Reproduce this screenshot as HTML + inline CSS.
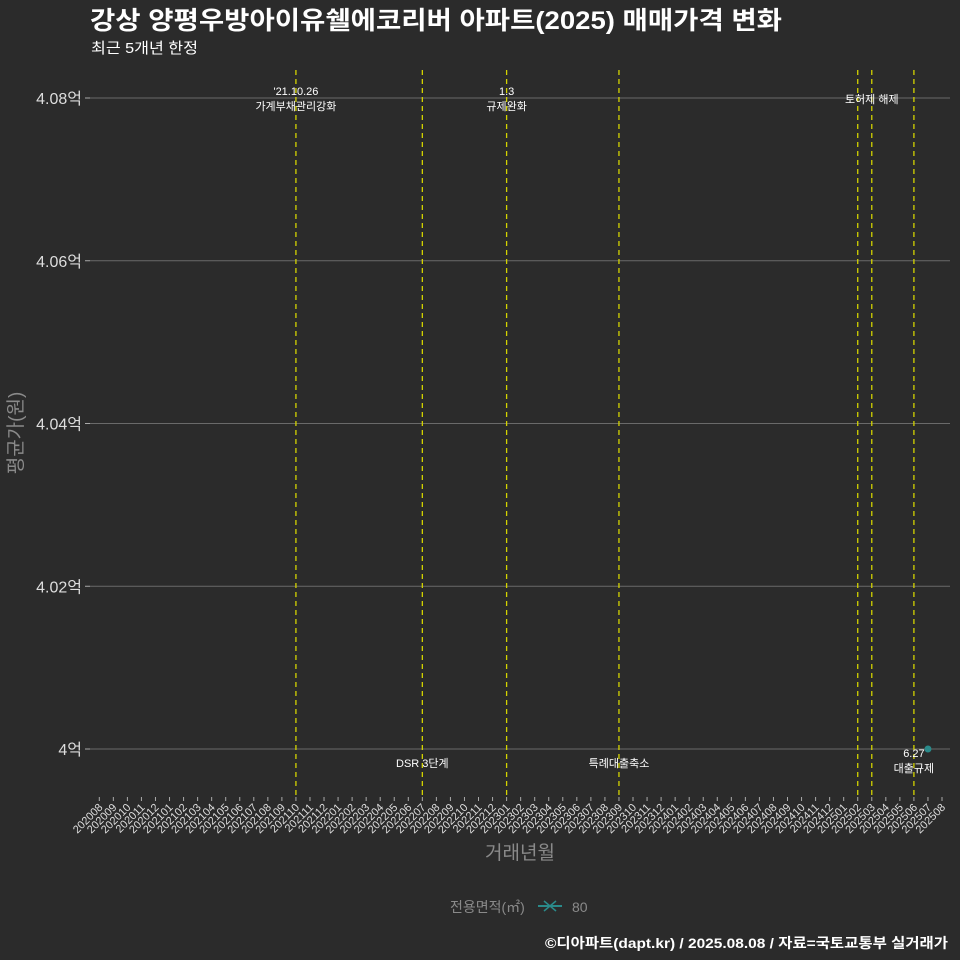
<!DOCTYPE html>
<html><head><meta charset="utf-8">
<style>
body{margin:0;background:#2b2b2b;}
svg{display:block;font-family:"Liberation Sans","Noto Sans CJK KR",sans-serif;}
</style></head>
<body>
<svg id="chart" width="960" height="960" viewBox="0 0 960 960">
<rect width="960" height="960" fill="#2b2b2b"/>
<text x="90" y="29" font-size="25" font-weight="bold" fill="#ffffff" textLength="692" lengthAdjust="spacingAndGlyphs">강상 양평우방아이유쉘에코리버 아파트(2025) 매매가격 변화</text>
<text x="91" y="53" font-size="15" fill="#ffffff" textLength="107" lengthAdjust="spacingAndGlyphs">최근 5개년 한정</text>
<g id="grid"></g>
<g id="events"></g>
<g id="xaxis"></g>
<g id="marks"></g>
<text x="520" y="859" font-size="19" fill="#8a8a8a" text-anchor="middle">거래년월</text>
<text transform="translate(22,433) rotate(-90)" font-size="19" fill="#8a8a8a" text-anchor="middle">평균가(원)</text>
<g>
<text x="450" y="912" font-size="14" fill="#8a8a8a">전용면적(㎡)</text>
<line x1="538" y1="906" x2="562" y2="906" stroke="#2a8a8a" stroke-width="2"/>
<path d="M544 901 L556 911 M544 911 L556 901" stroke="#2a8a8a" stroke-width="1.5"/>
<text x="572" y="912" font-size="14" fill="#8a8a8a">80</text>
</g>
<text x="545" y="948" font-size="14" font-weight="bold" fill="#ffffff" textLength="403" lengthAdjust="spacingAndGlyphs">©디아파트(dapt.kr) / 2025.08.08 / 자료=국토교통부 실거래가</text>
</svg>
<script>
const months = [];
for (let y = 2020; y <= 2025; y++) for (let m = 1; m <= 12; m++) {
  const k = y * 100 + m; if (k >= 202008 && k <= 202508) months.push(String(k));
}
const yTicks = [4.00, 4.02, 4.04, 4.06, 4.08];
const yTickLabels = ["4억", "4.02억", "4.04억", "4.06억", "4.08억"];
const seriesMonths = ["202507"];
const seriesValues = [4.00];
const eventMonths = ["202110", "202207", "202301", "202309", "202502", "202503", "202506"];
const eventLabels = [["'21.10.26", "가계부채관리강화"], ["DSR 3단계"], ["1.3", "규제완화"], ["특례대출축소"], [], ["토허제 해제"], ["6.27", "대출규제"]];
const eventLabelPos = ["top", "bottom", "top", "bottom", "none", "top", "bottom"];

const NS = "http://www.w3.org/2000/svg";
const x = m => 99.3 + months.indexOf(m) * 14.045;
const y = v => 749 - (v - 4.0) * 8137.5;
function mk(tag, attrs, parent) {
  const e = document.createElementNS(NS, tag);
  for (const k in attrs) e.setAttribute(k, attrs[k]);
  parent.appendChild(e); return e;
}
const grid = document.getElementById("grid");
yTicks.forEach((v, i) => {
  const l = mk("line", {x1: 90, x2: 950, y1: y(v), y2: y(v), stroke: "#6a6a6a", "stroke-width": 1}, grid);
  
  
  const t = mk("line", {x1: 85, x2: 90, y1: y(v), y2: y(v), stroke: "#aaaaaa"}, grid);
  
  
  const tx = mk("text", {x: 82, y: y(v) + 6, "font-size": 16, fill: "#dddddd", "text-anchor": "end"}, grid);
  tx.textContent = yTickLabels[i];
  
  
});
const ev = document.getElementById("events");
eventMonths.forEach((m, i) => {
  const xx = x(m);
  const l = mk("line", {x1: xx, x2: xx, y1: 70, y2: 798, stroke: "#d4d400", "stroke-width": 1.3, "stroke-dasharray": "5,4"}, ev);
  
  
  const lines = eventLabels[i];
  const y0 = eventLabelPos[i] === "top" ? (lines.length === 2 ? 95 : 103) : (lines.length === 2 ? 757 : 767);
  lines.forEach((s, j) => {
    const t = mk("text", {x: xx, y: y0 + j * 15, "font-size": 11, fill: "#ffffff", "text-anchor": "middle"}, ev);
    t.textContent = s;
    
    
  });
});
const xa = document.getElementById("xaxis");
months.forEach(m => {
  const xx = x(m);
  const t = mk("line", {x1: xx, x2: xx, y1: 797, y2: 801, stroke: "#aaaaaa"}, xa);
  
  
  const tx = mk("text", {x: xx + 4, y: 808, "font-size": 11, fill: "#dddddd", "text-anchor": "end", transform: `rotate(-45 ${xx + 4} 808)`}, xa);
  tx.textContent = m;
  
  
});
const mg = document.getElementById("marks");
seriesMonths.forEach((m, i) => {
  const c = mk("circle", {cx: x(m), cy: y(seriesValues[i]), r: 3.5, fill: "#2a8a8a"}, mg);
  
  
});
</script>
</body></html>
